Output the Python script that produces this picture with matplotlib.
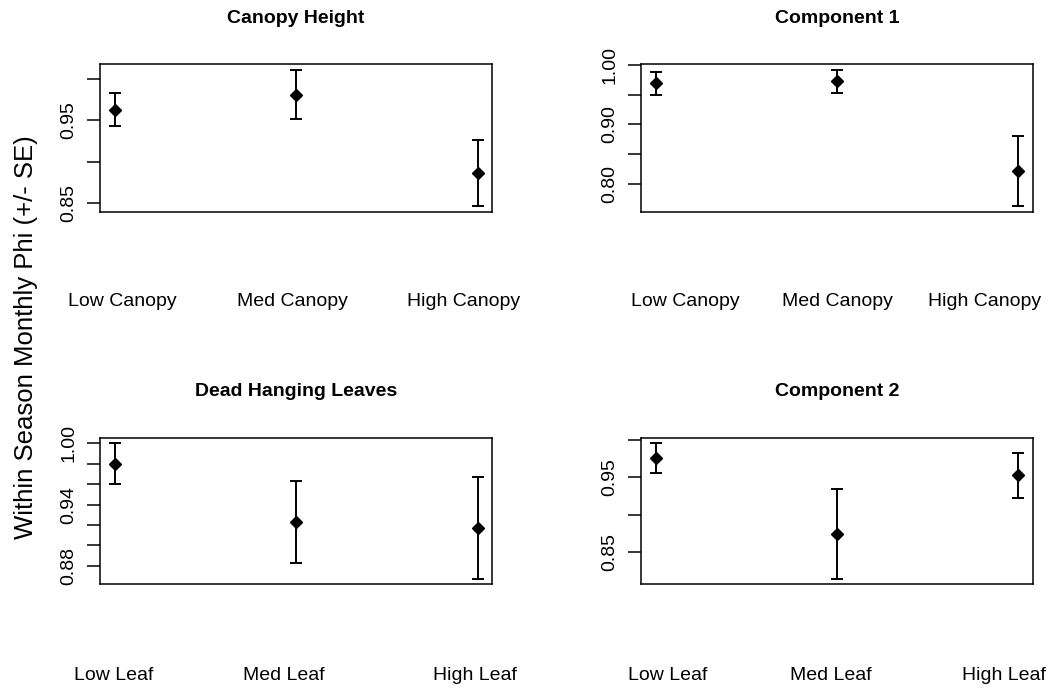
import matplotlib
matplotlib.use("Agg")
import matplotlib.pyplot as plt
from matplotlib.transforms import blended_transform_factory

plt.rcParams['font.family'] = ['Liberation Sans', 'DejaVu Sans']

# Group labels
canopy_levels = ["Low Canopy", "Med Canopy", "High Canopy"]
leaf_levels = ["Low Leaf", "Med Leaf", "High Leaf"]

# Monthly survival (phi) estimates and standard errors
canopy_height_phi = [0.9625, 0.981, 0.886]
canopy_height_se = [0.020, 0.030, 0.040]

component1_phi = [0.969, 0.972, 0.822]
component1_se = [0.019, 0.0195, 0.059]

dead_leaves_phi = [0.980, 0.923, 0.917]
dead_leaves_se = [0.020, 0.040, 0.050]

component2_phi = [0.976, 0.874, 0.953]
component2_se = [0.0197, 0.060, 0.030]

# y-axis ticks (unlabelled ticks would overlap their neighbours)
canopy_height_ticks = [0.85, 0.90, 0.95, 1.00]
canopy_height_ticklabels = ["0.85", "", "0.95", ""]
component1_ticks = [0.80, 0.85, 0.90, 0.95, 1.00]
component1_ticklabels = ["0.80", "", "0.90", "", "1.00"]
dead_leaves_ticks = [0.88, 0.90, 0.92, 0.94, 0.96, 0.98, 1.00]
dead_leaves_ticklabels = ["0.88", "", "", "0.94", "", "", "1.00"]
component2_ticks = [0.85, 0.90, 0.95, 1.00]
component2_ticklabels = ["0.85", "", "0.95", ""]

W, H = 1049, 690
fig = plt.figure(figsize=(W / 100, H / 100), dpi=100)


def px_rect(left, top, right, bottom):
    return [left / W, 1 - bottom / H, (right - left) / W, (bottom - top) / H]


panels = [
    dict(title="Canopy Height", rect=px_rect(100, 64.3, 492.3, 211.7),
         phi=canopy_height_phi, se=canopy_height_se, levels=canopy_levels,
         ticks=canopy_height_ticks, ticklabels=canopy_height_ticklabels,
         label_x=[1.044, 1.977, 2.924], title_y=23, label_y=306),
    dict(title="Component 1", rect=px_rect(641, 64.3, 1032.7, 211.7),
         phi=component1_phi, se=component1_se, levels=canopy_levels,
         ticks=component1_ticks, ticklabels=component1_ticklabels,
         label_x=[1.165, 2.005, 2.812], title_y=23, label_y=306),
    dict(title="Dead Hanging Leaves", rect=px_rect(100, 438, 492.3, 584.3),
         phi=dead_leaves_phi, se=dead_leaves_se, levels=leaf_levels,
         ticks=dead_leaves_ticks, ticklabels=dead_leaves_ticklabels,
         label_x=[0.997, 1.933, 2.982], title_y=396, label_y=680),
    dict(title="Component 2", rect=px_rect(641, 438, 1032.7, 584.3),
         phi=component2_phi, se=component2_se, levels=leaf_levels,
         ticks=component2_ticks, ticklabels=component2_ticklabels,
         label_x=[1.069, 1.968, 2.922], title_y=396, label_y=680),
]

for p in panels:
    ax = fig.add_axes(p["rect"])
    x = list(range(1, len(p["phi"]) + 1))
    ax.errorbar(x, p["phi"], yerr=p["se"], fmt="D", color="black",
                ms=6.5, capsize=4, elinewidth=1.4, capthick=1.4)
    lo = min(m - s for m, s in zip(p["phi"], p["se"]))
    hi = max(m + s for m, s in zip(p["phi"], p["se"]))
    pad = 0.04 * (hi - lo)
    ax.set_ylim(lo - pad, hi + pad)
    ax.set_xlim(0.92, 3.08)
    ax.set_xticks([])
    ax.set_yticks(p["ticks"])
    ax.set_yticklabels(p["ticklabels"])
    ax.tick_params(axis="y", length=9.5, width=1.1, pad=7, labelsize=14,
                   labelrotation=90, colors="black")
    for lbl in ax.get_yticklabels():
        lbl.set_verticalalignment("center")
    for sp in ax.spines.values():
        sp.set_linewidth(1.1)
        sp.set_color("black")

    tr_title = blended_transform_factory(ax.transAxes, fig.transFigure)
    fig.text(0.5, 1 - p["title_y"] / H, p["title"], transform=tr_title,
             ha="center", va="baseline", fontsize=14, fontweight="bold")

    tr_lab = blended_transform_factory(ax.transData, fig.transFigure)
    for lx, name in zip(p["label_x"], p["levels"]):
        fig.text(lx, 1 - p["label_y"] / H, name, transform=tr_lab,
                 ha="center", va="baseline", fontsize=14)

fig.text(33 / W, 1 - 337 / H, "Within Season Monthly Phi (+/- SE)",
         rotation=90, rotation_mode="anchor", ha="center", va="baseline",
         fontsize=18.5)

fig.savefig("out.png", dpi=100)
